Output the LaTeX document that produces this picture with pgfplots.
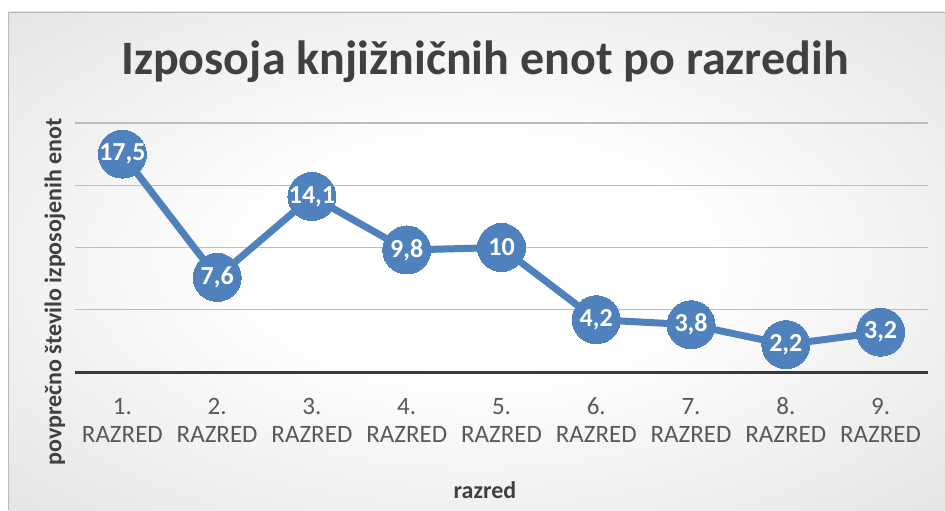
\documentclass[border=0pt]{standalone}
\usepackage{pgfplots}
\pgfplotsset{compat=1.18}
\usepackage{fontspec}
\setmainfont{Carlito}
\definecolor{lineblue}{HTML}{4F81BD}
\definecolor{titlegrey}{HTML}{404040}
\definecolor{labgrey}{HTML}{595959}
\definecolor{gridgrey}{HTML}{BDBDBD}
\definecolor{basegrey}{HTML}{3A3A3A}
\definecolor{bgedge}{rgb}{0.84,0.84,0.84}
\definecolor{bgcorner}{rgb}{0.75,0.75,0.75}
\pgfdeclareradialshading{bgshade}{\pgfpointorigin}{color(0bp)=(white); color(8bp)=(white); color(35bp)=(bgedge); color(50bp)=(bgcorner)}
\begin{document}
\begin{tikzpicture}
\useasboundingbox (0,0) rectangle (472.5pt,255pt);
\begin{scope}
\clip (4pt,0pt) rectangle (472.5pt,249pt);
\shade[shading=bgshade] (238.25pt,124.5pt) ellipse ({234.25pt*1.4142} and {124.5pt*1.4142});
\end{scope}
\draw[gray!55, line width=0.4pt] (4pt,0pt) -- (4pt,249pt) -- (472.5pt,249pt);
\node[font=\fontsize{24}{28}\bfseries, text=titlegrey] at (242.5pt,224pt) {Izposoja knjižničnih enot po razredih};
\node[font=\fontsize{12}{14}\bfseries, text=titlegrey, rotate=90] at (27.5pt,109pt) {povprečno število izposojenih enot};
\node[font=\fontsize{12}{14}\bfseries, text=titlegrey] at (242.5pt,10pt) {razred};
\begin{axis}[
  at={(37.5pt,69pt)}, anchor=origin,
  scale only axis, width=426.5pt, height=124.5pt,
  xmin=0.5, xmax=9.5, ymin=0, ymax=20,
  axis line style={draw=none},
  tick style={draw=none},
  xtick={1,...,9},
  xticklabels={1.\\[-1pt]RAZRED,2.\\[-1pt]RAZRED,3.\\[-1pt]RAZRED,4.\\[-1pt]RAZRED,5.\\[-1pt]RAZRED,6.\\[-1pt]RAZRED,7.\\[-1pt]RAZRED,8.\\[-1pt]RAZRED,9.\\[-1pt]RAZRED},
  xticklabel style={align=center, font=\fontsize{12.5}{15}\selectfont, text=labgrey, yshift=-7pt, anchor=north},
  typeset ticklabels with strut,
  ytick={5,10,15,20}, yticklabels={},
  ymajorgrids, grid style={gridgrey, line width=0.6pt},
  extra y ticks={0}, extra y tick labels={},
  extra y tick style={grid style={basegrey, line width=1.5pt}},
  clip=false,
]
\addplot[lineblue, line width=3.5pt, mark=*, mark size=12pt,
  mark options={fill=lineblue, draw=lineblue, line width=0pt},
  point meta=y,
  nodes near coords={\pgfmathprintnumber[use comma, fixed, precision=1, assume math mode=true]{\pgfplotspointmeta}},
  nodes near coords align=center,
  every node near coord/.append style={font=\fontsize{13}{15}\bfseries, text=white, anchor=center},
] coordinates {
(1,17.5) (2,7.6) (3,14.1) (4,9.8) (5,10) (6,4.2) (7,3.8) (8,2.2) (9,3.2)
};
\end{axis}
\end{tikzpicture}
\end{document}
